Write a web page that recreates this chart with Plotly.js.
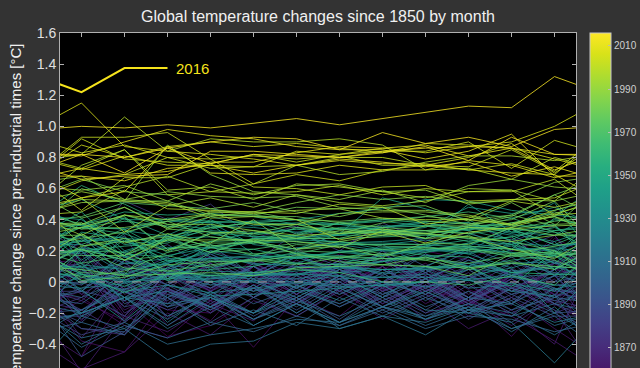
<!DOCTYPE html>
<html><head><meta charset="utf-8">
<script src="https://cdn.plot.ly/plotly-3.0.1.min.js"></script>
<style>html,body{margin:0;padding:0;background:#333333;overflow:hidden;width:640px;height:368px}</style>
</head><body><div id="chart" style="width:640px;height:460px"></div>
<script>
// Monthly temperature change vs pre-industrial (°C), Jan..Dec, one row per year
const d1850 = [
[-0.48,-0.12,-0.35,-0.28,-0.10,0.08,-0.02,0.10,-0.08,-0.15,0.02,0.30],
[-0.08,-0.22,0.06,-0.04,0.14,0.05,0.18,0.08,0.20,0.14,0.28,0.12],
[0.25,-0.06,-0.18,-0.20,0.15,0.22,0.04,0.14,0.02,0.12,-0.02,0.28],
[0.15,-0.10,0.08,0.16,-0.02,0.10,0.02,0.20,-0.05,-0.12,-0.22,0.05],
[-0.25,0.10,-0.08,-0.18,0.10,0.02,0.16,0.00,0.12,-0.05,-0.15,0.12],
[0.14,-0.22,0.12,-0.06,0.10,-0.04,0.12,-0.02,0.08,-0.10,0.02,-0.25],
[-0.12,-0.25,0.04,-0.05,0.12,0.00,0.14,-0.05,0.06,-0.14,0.04,-0.08],
[-0.10,-0.28,-0.36,-0.12,-0.42,-0.10,-0.22,0.00,-0.25,-0.10,-0.35,-0.05],
[-0.38,-0.45,-0.10,-0.25,0.05,-0.08,0.10,-0.06,0.04,-0.12,-0.02,-0.15],
[-0.06,0.14,-0.02,0.12,-0.06,0.12,-0.02,0.10,-0.08,0.04,-0.06,0.12]];
const d1860 = [
[0.10,-0.18,-0.05,-0.16,0.04,-0.12,0.04,-0.14,0.00,-0.22,-0.10,-0.30],
[-0.48,0.05,-0.28,-0.12,-0.20,0.04,-0.10,0.06,-0.14,0.00,-0.22,-0.38],
[-0.56,-0.45,-0.20,-0.34,-0.12,-0.22,-0.05,-0.24,-0.10,-0.30,-0.18,-0.40],
[0.22,-0.05,0.06,-0.20,0.02,-0.12,0.04,-0.16,-0.02,-0.14,-0.04,-0.18],
[-0.58,-0.22,-0.32,-0.14,-0.25,-0.02,-0.14,0.00,-0.20,-0.12,-0.28,-0.10],
[0.10,-0.26,-0.05,-0.12,0.10,-0.08,0.08,-0.06,0.04,-0.10,0.08,-0.08],
[0.20,-0.08,0.04,-0.10,0.12,-0.02,0.14,-0.04,0.10,-0.08,0.04,0.14],
[-0.22,0.14,-0.24,0.12,-0.10,0.12,-0.04,0.08,-0.06,0.06,-0.14,0.02],
[-0.36,-0.04,-0.08,0.02,-0.04,0.12,0.02,0.14,-0.06,0.08,-0.10,0.08],
[0.02,0.30,-0.14,0.12,-0.10,0.06,-0.06,0.10,-0.08,0.04,-0.04,0.06]];
const d1870 = [
[0.08,-0.24,0.06,-0.06,0.12,0.00,0.14,-0.04,0.08,-0.10,0.10,-0.14],
[-0.30,-0.34,0.10,-0.06,0.06,-0.08,0.08,-0.10,0.02,-0.16,0.04,0.12],
[-0.08,0.08,-0.04,0.12,0.00,0.14,0.02,0.16,-0.04,0.10,-0.06,0.08],
[0.12,-0.16,0.08,-0.12,0.06,-0.04,0.10,-0.06,0.06,-0.12,0.04,-0.06],
[0.18,-0.20,-0.05,-0.16,0.02,-0.14,0.04,-0.12,-0.02,-0.18,-0.04,-0.12],
[-0.18,-0.34,-0.04,-0.16,0.04,-0.10,0.04,-0.14,0.00,-0.12,0.02,-0.14],
[0.08,-0.06,-0.04,-0.16,-0.02,-0.14,0.02,-0.16,-0.02,-0.12,0.00,-0.20],
[-0.10,0.14,0.04,0.20,0.12,0.32,0.20,0.38,0.26,0.38,0.26,0.36],
[0.20,0.52,0.40,0.50,0.28,0.36,0.22,0.36,0.22,0.32,0.20,0.30],
[-0.02,0.18,0.02,0.10,-0.04,0.12,0.04,0.18,0.02,0.14,0.04,0.12]];
const d1880 = [
[0.20,-0.05,0.12,-0.04,0.10,-0.08,0.08,-0.02,0.06,-0.10,0.08,-0.04],
[-0.12,0.10,0.04,0.16,0.06,0.18,0.06,0.14,0.00,0.16,0.04,0.20],
[0.30,0.04,0.16,-0.02,0.10,-0.06,0.10,0.00,0.10,-0.04,0.12,-0.06],
[-0.06,-0.12,0.06,-0.04,0.10,-0.02,0.12,-0.08,0.04,-0.12,0.08,-0.10],
[0.00,-0.12,-0.02,-0.16,-0.04,-0.20,-0.04,-0.16,-0.02,-0.20,-0.04,-0.18],
[-0.34,-0.26,-0.06,-0.20,-0.04,-0.14,0.00,-0.12,0.00,-0.14,0.02,-0.14],
[-0.26,-0.02,-0.12,0.04,-0.08,0.06,-0.06,0.08,-0.06,0.04,-0.08,0.04],
[-0.24,-0.06,-0.18,-0.08,-0.20,-0.02,-0.16,-0.04,-0.18,-0.02,-0.18,-0.04],
[-0.18,-0.04,-0.14,0.04,-0.06,0.10,0.00,0.14,0.00,0.10,-0.04,0.08],
[0.22,0.14,0.24,0.08,0.16,0.00,0.14,0.04,0.18,0.02,0.16,0.00]];
const d1890 = [
[0.06,-0.16,-0.10,-0.26,-0.10,-0.22,-0.06,-0.20,-0.08,-0.24,-0.10,-0.22],
[-0.22,-0.06,-0.16,0.00,-0.10,0.02,-0.08,0.04,-0.10,0.02,-0.12,0.04],
[-0.20,0.02,-0.22,-0.10,-0.24,-0.10,-0.26,-0.08,-0.22,-0.10,-0.26,-0.08],
[-0.48,-0.32,-0.06,-0.18,-0.04,-0.18,-0.02,-0.18,-0.06,-0.20,-0.08,-0.20],
[-0.18,0.00,-0.16,-0.06,-0.22,-0.08,-0.24,-0.06,-0.20,-0.06,-0.20,-0.08],
[-0.30,-0.32,0.00,-0.14,0.02,-0.12,0.04,-0.10,0.02,-0.12,0.00,-0.14],
[-0.04,0.08,-0.02,0.16,0.02,0.20,0.10,0.24,0.10,0.22,0.12,0.26],
[0.00,0.12,-0.02,0.18,0.06,0.18,0.04,0.20,0.06,0.16,0.04,0.16],
[0.20,-0.14,-0.04,-0.18,-0.02,-0.16,0.00,-0.16,-0.04,-0.18,-0.04,-0.12],
[-0.06,-0.22,0.06,-0.04,0.10,-0.04,0.12,0.00,0.18,0.10,0.26,0.04]];
const d1900 = [
[-0.02,0.16,0.08,0.18,0.04,0.16,0.06,0.18,0.06,0.20,0.04,0.14],
[-0.06,0.14,0.02,0.14,0.00,0.10,-0.04,0.08,-0.04,0.08,-0.08,-0.02],
[0.00,0.06,-0.10,0.00,-0.14,-0.04,-0.16,-0.02,-0.16,-0.06,-0.18,-0.10],
[-0.14,0.06,-0.16,-0.10,-0.24,-0.14,-0.28,-0.16,-0.28,-0.18,-0.30,-0.22],
[-0.42,-0.28,-0.36,-0.26,-0.32,-0.22,-0.28,-0.18,-0.30,-0.22,-0.24,-0.32],
[-0.26,-0.34,-0.08,-0.16,-0.04,-0.12,0.02,-0.08,0.02,-0.10,0.06,-0.04],
[-0.10,0.02,-0.10,0.08,-0.10,0.04,-0.08,0.06,-0.12,0.02,-0.14,0.08],
[-0.22,-0.30,-0.10,-0.28,-0.18,-0.28,-0.10,-0.22,-0.10,-0.20,-0.12,-0.28],
[-0.20,-0.10,-0.30,-0.16,-0.28,-0.14,-0.26,-0.16,-0.24,-0.16,-0.32,-0.16],
[-0.40,-0.26,-0.40,-0.34,-0.30,-0.24,-0.26,-0.16,-0.22,-0.14,-0.20,-0.34]];
const d1910 = [
[-0.18,-0.06,-0.22,-0.08,-0.24,-0.12,-0.22,-0.10,-0.24,-0.14,-0.30,-0.20],
[-0.36,-0.30,-0.50,-0.40,-0.38,-0.26,-0.30,-0.22,-0.26,-0.16,-0.22,-0.14],
[-0.20,0.00,-0.26,-0.06,-0.20,-0.10,-0.30,-0.22,-0.34,-0.18,-0.22,-0.04],
[-0.20,-0.10,-0.24,-0.08,-0.28,-0.14,-0.26,-0.12,-0.24,-0.10,-0.14,0.00],
[0.20,0.00,0.04,-0.08,0.06,-0.04,0.08,-0.02,0.10,0.02,0.12,0.06],
[-0.06,0.20,0.06,0.24,0.04,0.16,0.08,0.16,0.02,0.14,0.06,0.10],
[0.08,-0.10,-0.06,-0.16,-0.02,-0.20,-0.04,-0.16,-0.06,-0.18,-0.14,-0.26],
[-0.20,-0.10,-0.28,-0.10,-0.20,-0.06,-0.14,-0.02,-0.18,-0.20,-0.26,-0.52],
[-0.22,-0.10,-0.14,-0.10,-0.20,-0.02,-0.12,0.00,-0.08,0.10,-0.06,0.04],
[0.12,-0.12,0.04,-0.02,0.00,-0.10,0.04,-0.10,0.08,-0.04,-0.02,-0.10]];
const d1920 = [
[0.05,0.01,0.09,0.03,0.00,-0.03,0.02,0.03,0.05,0.01,-0.06,-0.09],
[0.22,0.05,0.05,0.02,0.05,0.04,0.11,0.05,0.08,0.12,0.03,0.05],
[0.04,-0.10,0.05,0.01,-0.06,0.00,-0.02,0.00,-0.03,0.01,0.05,-0.05],
[0.03,-0.06,-0.02,-0.07,-0.04,-0.01,-0.03,-0.02,0.00,0.08,0.07,0.10],
[0.01,-0.05,0.05,0.00,0.01,0.00,0.04,-0.03,0.00,0.02,0.03,-0.02],
[-0.04,-0.01,0.05,0.04,0.02,0.02,0.06,0.08,0.09,0.10,0.21,0.20],
[0.29,0.26,0.30,0.16,0.12,0.10,0.09,0.13,0.16,0.19,0.23,0.12],
[0.09,0.09,0.01,0.02,0.05,0.05,0.10,0.06,0.10,0.21,0.19,0.04],
[0.27,0.16,0.06,0.05,0.06,0.05,0.09,0.08,0.08,0.10,0.12,0.13],
[-0.05,-0.25,-0.02,-0.09,-0.08,-0.06,-0.04,-0.02,0.00,0.04,0.09,-0.20]];
const d1930 = [
[0.07,0.12,0.11,0.07,0.06,0.09,0.12,0.17,0.21,0.20,0.34,0.24],
[0.24,0.12,0.15,0.15,0.16,0.22,0.24,0.20,0.20,0.25,0.21,0.21],
[0.30,0.03,0.12,0.19,0.11,0.12,0.11,0.13,0.21,0.18,0.09,0.17],
[0.05,0.00,0.02,0.04,0.04,0.05,0.04,0.03,0.03,0.01,-0.01,-0.06],
[0.11,0.08,0.12,0.20,0.17,0.15,0.20,0.20,0.19,0.22,0.25,0.23],
[0.26,0.29,0.11,0.00,0.04,0.07,0.10,0.08,0.09,0.12,0.06,0.09],
[0.10,0.01,0.13,0.15,0.17,0.16,0.19,0.17,0.20,0.23,0.21,0.22],
[0.18,0.28,0.13,0.23,0.26,0.29,0.30,0.35,0.39,0.38,0.31,0.26],
[0.35,0.34,0.39,0.38,0.24,0.21,0.25,0.26,0.28,0.35,0.30,0.18],
[0.27,0.26,0.17,0.22,0.25,0.26,0.24,0.24,0.27,0.23,0.35,0.51]];
const d1940 = [
[0.12,0.33,0.29,0.36,0.35,0.32,0.34,0.35,0.38,0.33,0.41,0.48],
[0.36,0.41,0.30,0.42,0.36,0.38,0.37,0.33,0.28,0.50,0.32,0.30],
[0.45,0.20,0.28,0.33,0.31,0.34,0.30,0.30,0.31,0.34,0.36,0.36],
[0.14,0.31,0.21,0.31,0.26,0.21,0.31,0.32,0.35,0.48,0.44,0.46],
[0.53,0.40,0.40,0.38,0.39,0.40,0.44,0.47,0.53,0.52,0.46,0.43],
[0.40,0.24,0.27,0.40,0.29,0.28,0.31,0.54,0.47,0.40,0.26,0.12],
[0.32,0.28,0.26,0.37,0.18,0.12,0.20,0.17,0.23,0.18,0.24,0.08],
[0.22,0.19,0.28,0.29,0.26,0.27,0.26,0.21,0.23,0.36,0.34,0.18],
[0.41,0.18,0.16,0.26,0.32,0.29,0.25,0.25,0.24,0.22,0.19,0.17],
[0.38,0.16,0.22,0.22,0.21,0.15,0.19,0.22,0.23,0.27,0.24,0.17]];
const d1950 = [
[-0.01,0.05,0.14,0.09,0.15,0.18,0.17,0.15,0.16,0.10,-0.03,0.20],
[0.05,-0.03,0.09,0.22,0.28,0.27,0.30,0.35,0.36,0.33,0.27,0.40],
[0.36,0.34,0.19,0.32,0.29,0.30,0.35,0.36,0.36,0.31,0.24,0.33],
[0.37,0.45,0.43,0.44,0.42,0.37,0.37,0.39,0.36,0.38,0.32,0.37],
[0.09,0.27,0.14,0.14,0.14,0.16,0.16,0.13,0.19,0.25,0.29,0.08],
[0.31,0.17,0.01,0.13,0.14,0.19,0.15,0.21,0.17,0.16,0.06,0.05],
[0.05,-0.07,0.05,0.08,0.10,0.16,0.15,0.11,0.10,0.09,0.14,0.17],
[0.20,0.23,0.25,0.35,0.38,0.40,0.37,0.40,0.38,0.34,0.38,0.42],
[0.62,0.50,0.37,0.34,0.39,0.31,0.38,0.33,0.33,0.36,0.37,0.33],
[0.35,0.31,0.41,0.39,0.30,0.34,0.34,0.34,0.31,0.26,0.29,0.35]];
const d1960 = [
[0.24,0.34,0.02,0.19,0.28,0.28,0.28,0.29,0.30,0.28,0.21,0.41],
[0.34,0.43,0.35,0.39,0.38,0.37,0.32,0.32,0.33,0.31,0.34,0.24],
[0.35,0.39,0.36,0.32,0.25,0.35,0.34,0.31,0.31,0.34,0.34,0.32],
[0.26,0.41,0.21,0.26,0.27,0.30,0.38,0.40,0.42,0.45,0.41,0.32],
[0.20,0.19,0.07,0.04,0.06,0.08,0.06,0.00,0.00,-0.02,0.04,-0.02],
[0.21,0.14,0.17,0.10,0.15,0.12,0.11,0.15,0.14,0.22,0.16,0.20],
[0.12,0.17,0.27,0.19,0.21,0.25,0.26,0.23,0.22,0.20,0.17,0.18],
[0.21,0.14,0.28,0.19,0.27,0.18,0.24,0.24,0.24,0.30,0.18,0.19],
[0.06,0.05,0.31,0.22,0.18,0.20,0.19,0.21,0.21,0.23,0.21,0.18],
[0.17,0.17,0.29,0.35,0.38,0.35,0.31,0.32,0.32,0.36,0.37,0.45]];
const d1970 = [
[0.37,0.42,0.21,0.24,0.17,0.24,0.23,0.18,0.22,0.21,0.18,0.16],
[0.21,0.09,0.07,0.11,0.14,0.11,0.16,0.15,0.15,0.12,0.17,0.14],
[0.03,0.07,0.19,0.25,0.25,0.28,0.28,0.34,0.28,0.35,0.34,0.39],
[0.42,0.51,0.49,0.47,0.43,0.40,0.34,0.32,0.31,0.28,0.26,0.20],
[0.01,0.03,0.11,0.13,0.13,0.17,0.16,0.18,0.14,0.08,0.13,0.08],
[0.23,0.26,0.29,0.23,0.26,0.18,0.13,0.11,0.16,0.09,0.12,0.10],
[0.08,0.04,0.05,0.06,0.04,0.09,0.10,0.11,0.10,0.04,0.18,0.23],
[0.28,0.32,0.39,0.43,0.42,0.42,0.38,0.35,0.33,0.31,0.38,0.42],
[0.34,0.35,0.39,0.29,0.26,0.21,0.23,0.16,0.25,0.24,0.35,0.30],
[0.30,0.17,0.34,0.32,0.31,0.37,0.31,0.38,0.42,0.40,0.43,0.56]];
const d1980 = [
[0.41,0.48,0.35,0.45,0.45,0.40,0.39,0.41,0.39,0.37,0.43,0.36],
[0.60,0.52,0.52,0.43,0.43,0.48,0.47,0.48,0.43,0.37,0.40,0.52],
[0.23,0.28,0.20,0.31,0.33,0.28,0.33,0.30,0.36,0.36,0.42,0.56],
[0.66,0.58,0.56,0.47,0.51,0.45,0.42,0.48,0.49,0.39,0.51,0.37],
[0.38,0.25,0.31,0.25,0.40,0.21,0.26,0.30,0.31,0.29,0.21,0.15],
[0.31,0.14,0.27,0.27,0.27,0.26,0.22,0.33,0.28,0.29,0.26,0.30],
[0.35,0.43,0.37,0.37,0.33,0.30,0.31,0.34,0.31,0.35,0.34,0.36],
[0.37,0.48,0.34,0.42,0.45,0.51,0.56,0.53,0.55,0.51,0.52,0.64],
[0.68,0.53,0.58,0.55,0.54,0.55,0.48,0.46,0.46,0.43,0.37,0.42],
[0.30,0.43,0.40,0.44,0.37,0.37,0.44,0.45,0.45,0.42,0.36,0.44]];
const d1990 = [
[0.51,0.52,0.88,0.69,0.58,0.56,0.53,0.59,0.51,0.62,0.66,0.61],
[0.59,0.62,0.52,0.63,0.56,0.62,0.63,0.58,0.59,0.50,0.53,0.52],
[0.58,0.53,0.51,0.41,0.42,0.40,0.27,0.32,0.25,0.32,0.35,0.43],
[0.53,0.52,0.50,0.45,0.44,0.46,0.47,0.41,0.40,0.40,0.37,0.46],
[0.54,0.32,0.49,0.54,0.48,0.56,0.51,0.49,0.52,0.58,0.59,0.52],
[0.75,0.85,0.59,0.61,0.53,0.63,0.61,0.58,0.54,0.60,0.59,0.43],
[0.45,0.59,0.47,0.46,0.45,0.44,0.50,0.48,0.37,0.41,0.52,0.48],
[0.54,0.61,0.68,0.58,0.63,0.75,0.69,0.71,0.77,0.81,0.81,0.78],
[0.82,1.06,0.84,0.92,0.90,0.90,0.92,0.88,0.72,0.73,0.66,0.80],
[0.73,0.85,0.56,0.58,0.57,0.58,0.62,0.56,0.60,0.58,0.58,0.66]];
const d2000 = [
[0.46,0.67,0.67,0.76,0.61,0.60,0.56,0.61,0.62,0.52,0.53,0.54],
[0.65,0.69,0.80,0.73,0.74,0.75,0.80,0.80,0.75,0.74,0.85,0.71],
[0.93,0.93,0.96,0.79,0.81,0.79,0.81,0.75,0.75,0.72,0.76,0.69],
[0.92,0.79,0.77,0.76,0.82,0.77,0.82,0.84,0.84,0.90,0.73,0.91],
[0.83,0.88,0.80,0.79,0.63,0.69,0.65,0.72,0.75,0.80,0.89,0.70],
[0.88,0.80,0.87,0.90,0.87,0.89,0.86,0.83,0.89,0.88,0.86,0.79],
[0.72,0.81,0.75,0.75,0.74,0.84,0.82,0.86,0.83,0.87,0.90,1.00],
[1.15,0.87,0.84,0.82,0.79,0.75,0.78,0.76,0.76,0.72,0.70,0.69],
[0.54,0.58,0.87,0.70,0.69,0.70,0.75,0.72,0.72,0.78,0.75,0.67],
[0.73,0.69,0.71,0.77,0.77,0.83,0.87,0.86,0.88,0.81,0.86,0.82]];
const d2010 = [
[0.81,0.90,0.98,0.94,0.92,0.87,0.85,0.85,0.79,0.84,0.95,0.68],
[0.68,0.65,0.73,0.75,0.70,0.75,0.79,0.77,0.74,0.77,0.68,0.74],
[0.66,0.68,0.69,0.84,0.84,0.82,0.80,0.84,0.86,0.87,0.86,0.72],
[0.82,0.80,0.86,0.76,0.82,0.81,0.80,0.83,0.87,0.78,0.93,0.82],
[0.82,0.70,0.86,0.90,0.93,0.92,0.85,0.96,0.89,0.93,0.87,0.98],
[1.00,0.99,1.01,0.99,1.02,1.05,1.01,1.05,1.09,1.13,1.12,1.32]];
const latest = [1.22,1.375,1.375];   // 2016 Jan..Mar
const latestYear = 2016;
const firstYear = 1850;
const monthNames = ['Jan','Feb','Mar','Apr','May','Jun','Jul','Aug','Sep','Oct','Nov','Dec'];
const yTickVals = [1.6,1.4,1.2,1.0,0.8,0.6,0.4,0.2,0,-0.2,-0.4];
const yTickText = ['1.6','1.4','1.2','1.0','0.8','0.6','0.4','0.2','0','\u22120.2','\u22120.4'];
const cbTickVals = [1870,1890,1910,1930,1950,1970,1990,2010];

const rows = [].concat(d1850,d1860,d1870,d1880,d1890,d1900,d1910,d1920,d1930,d1940,d1950,d1960,d1970,d1980,d1990,d2000,d2010);

const vir = ['#440154','#48186a','#472d7b','#424086','#3b528b','#33638d','#2c728e','#26828e','#21918c','#1fa088','#28ae80','#3fbc73','#5ec962','#84d44b','#addc30','#d8e219','#fde725'];
function hex(c){return [parseInt(c.substr(1,2),16),parseInt(c.substr(3,2),16),parseInt(c.substr(5,2),16)];}
function viridis(t){
  t=Math.max(0,Math.min(1,t)); const p=t*(vir.length-1); const i=Math.min(vir.length-2,Math.floor(p)); const f=p-i;
  const a=hex(vir[i]), b=hex(vir[i+1]);
  return 'rgb('+a.map((v,k)=>Math.round(v+(b[k]-v)*f)).join(',')+')';
}

const traces = [];
const mIdx = monthNames.map((m,i)=>i+1);
rows.forEach((r,i)=>{
  const yr = firstYear+i;
  let x=[], y=[];
  if(i>0){x.push(0); y.push(rows[i-1][11]);}
  x = x.concat(mIdx); y = y.concat(r);
  const next = i<rows.length-1 ? rows[i+1][0] : latest[0];
  x.push(13); y.push(next);
  traces.push({type:'scatter',mode:'lines',x:x,y:y,hoverinfo:'skip',showlegend:false,
    line:{color:viridis((yr-firstYear)/(latestYear-firstYear)),width:0.8}});
});
const lastX=[0].concat(mIdx.slice(0,latest.length));
const lastY=[rows[rows.length-1][11]].concat(latest);
traces.push({type:'scatter',mode:'lines',x:lastX,y:lastY,hoverinfo:'skip',showlegend:false,
  line:{color:'#f5e31c',width:2}});
traces.push({type:'scatter',mode:'markers',x:[null,null],y:[null,null],hoverinfo:'skip',showlegend:false,
  marker:{color:[firstYear,latestYear],cmin:firstYear,cmax:latestYear,colorscale:'Viridis',showscale:true,
    colorbar:{x:1.027,xanchor:'left',xpad:0,ypad:0,y:0.5,yanchor:'middle',len:1,lenmode:'fraction',
      thickness:21,thicknessmode:'pixels',outlinecolor:'#c8c8c8',outlinewidth:1,
      tickmode:'array',tickvals:cbTickVals,ticks:'inside',ticklen:3,tickcolor:'#bbbbbb',
      tickfont:{family:'Liberation Sans, Arial, sans-serif',size:10,color:'#d0d0d0'}}}});

const layout = {
  width:640,height:460,
  paper_bgcolor:'#333333',plot_bgcolor:'#000000',
  margin:{l:60,r:64,t:33,b:69,autoexpand:false},
  font:{family:'Liberation Sans, Arial, sans-serif',color:'#e6e6e6'},
  title:{text:'Global temperature changes since 1850 by month',font:{size:16,color:'#f0f0f0'},
    x:0.5,xref:'paper',xanchor:'center',y:1-16/460,yref:'container',yanchor:'middle'},
  xaxis:{range:[0.5,12.5],tickmode:'array',tickvals:mIdx,ticktext:monthNames,ticks:'inside',ticklen:4,
    tickcolor:'#b0b0b0',showline:true,linecolor:'#b0b0b0',linewidth:1,mirror:'ticks',showgrid:false,zeroline:false,
    showticklabels:false},
  yaxis:{range:[-0.701,1.6],tickmode:'array',tickvals:yTickVals,ticktext:yTickText,ticks:'inside',ticklen:4,
    tickcolor:'#b0b0b0',showline:true,linecolor:'#b0b0b0',linewidth:1,mirror:'ticks',showgrid:false,zeroline:false,
    tickfont:{size:14,color:'#e0e0e0'},automargin:false,
    title:{text:'Temperature change since pre-industrial times [°C]',font:{size:15,color:'#f0f0f0'},standoff:3}},
  shapes:[{type:'line',xref:'paper',x0:0,x1:1,yref:'y',y0:0,y1:0,layer:'above',line:{color:'#a0a0a0',width:1,dash:'dash'}}],
  annotations:[{x:latest.length,y:latest[latest.length-1],xref:'x',yref:'y',text:String(latestYear),showarrow:false,
    xanchor:'left',yanchor:'middle',xshift:6,font:{size:15,color:'#f5e31c'}}],
  hovermode:false
};
Plotly.newPlot('chart',traces,layout,{displayModeBar:false,staticPlot:true});
</script></body></html>
